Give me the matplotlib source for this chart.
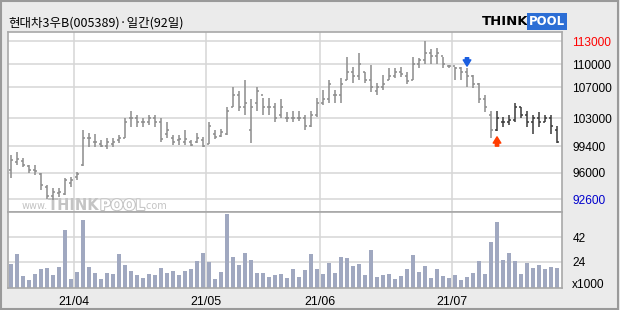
import matplotlib
matplotlib.use("Agg")
import matplotlib.pyplot as plt
import matplotlib.patheffects as pe
from matplotlib.patches import Rectangle
import numpy as np

plt.rcParams["font.family"] = ["Noto Sans CJK KR", "DejaVu Sans"]

title = "현대차3우B(005389)·일간(92일)"

# daily OHLC, 2021-03-17 .. 2021-07-26
open_ = [96400, 97400, 97500, 96800, 96300, 95800, 94200, 93000, 93400, 93300,
         94700, 95500, 97000, 100500, 100000, 99700, 99500, 99700, 100200, 100500,
         103000, 103000, 102500, 102500, 103000, 102500, 101000, 100500, 100200, 100000,
         100000, 100000, 100200, 99700, 101000, 100800, 101000, 104500, 106000, 104500,
         101500, 105000, 106000, 104500, 104500, 103500, 103000, 103000, 103000, 103000,
         102000, 103500, 105000, 105500, 106000, 106000, 108000, 109000, 108500, 109000,
         108000, 106500, 107000, 108000, 108500, 109000, 108500, 108000, 110000, 110500,
         111500, 111000, 111000, 109800, 109800, 109500, 109000, 108500, 107500, 105500,
         103500, 101500, 102500, 102500, 102800, 104500, 103500, 102500, 103000, 102500,
         103000, 101500]
high = [98300, 98700, 97900, 97000, 97000, 95900, 94400, 94000, 94000, 95300,
        95400, 96100, 101500, 101100, 101000, 100200, 100500, 100500, 100900, 103000,
        104000, 103500, 103000, 103500, 103500, 103000, 102500, 100900, 100900, 101500,
        100200, 101100, 100600, 102500, 101500, 101600, 104500, 107000, 106500, 108000,
        105500, 107000, 105600, 105600, 105000, 105500, 103800, 104000, 104000, 103500,
        104000, 105600, 106700, 108000, 106700, 108200, 110900, 109600, 111500, 109000,
        109900, 107600, 108600, 109500, 109500, 109600, 109000, 110900, 110800, 113000,
        112000, 112100, 110900, 109900, 109700, 109700, 109500, 108600, 107600, 106000,
        104000, 103900, 103200, 103500, 105000, 104500, 104000, 103500, 103800, 103500,
        103500, 102000]
low = [95300, 97000, 96700, 96000, 95700, 93800, 92600, 92500, 92900, 93100,
       94100, 95100, 96900, 99300, 99300, 99300, 99100, 99300, 99800, 100500,
       101900, 101900, 101900, 102200, 101900, 99900, 100500, 99600, 99600, 99600,
       99400, 99800, 99300, 99700, 100300, 100600, 100900, 104500, 103900, 103500,
       99800, 104000, 103500, 103500, 102500, 103000, 102500, 102500, 102700, 101500,
       101900, 103200, 104700, 105000, 105000, 105000, 108000, 107600, 108000, 107600,
       106400, 106000, 106700, 108000, 108200, 108300, 107500, 108000, 109500, 110000,
       110000, 110000, 109500, 109500, 108000, 108000, 107000, 106900, 105000, 103800,
       100500, 101400, 101900, 102200, 102500, 103000, 101900, 101000, 101900, 102500,
       101000, 99800]
close = [97600, 97800, 97000, 96300, 96200, 94400, 93000, 93500, 93500, 95000,
         95000, 95800, 100500, 100500, 99900, 99500, 99900, 100000, 100500, 102500,
         103000, 102500, 102500, 103000, 102500, 100300, 101500, 100000, 100300, 100300,
         99600, 100500, 99500, 102000, 100600, 101200, 104000, 106000, 104500, 105000,
         104500, 106500, 104500, 104500, 103000, 104500, 103000, 103000, 103000, 102000,
         103500, 105000, 105500, 107500, 106000, 107500, 109000, 108500, 110000, 108000,
         107000, 107000, 107500, 108500, 109000, 108800, 107800, 110000, 110500, 111500,
         111000, 111500, 110000, 109800, 109500, 109000, 108500, 107500, 105500, 104500,
         101500, 103000, 102500, 102800, 104500, 103500, 102500, 103000, 102500, 103000,
         102000, 100000]
# volume, x1000 shares
volume = [22.6, 29.8, 13.9, 11.0, 15.4, 19.0, 19.7, 14.6, 20.4, 47.0,
          11.8, 16.8, 54.2, 20.4, 16.1, 11.8, 16.1, 15.4, 29.8, 21.8,
          17.5, 14.6, 12.5, 15.4, 14.6, 19.7, 16.1, 17.5, 14.6, 17.5,
          19.0, 24.7, 30.5, 24.0, 11.8, 16.8, 58.5, 27.6, 21.8, 30.5,
          25.4, 16.1, 16.1, 13.2, 14.6, 15.4, 12.5, 19.0, 13.2, 18.2,
          29.8, 19.0, 15.4, 23.3, 16.1, 27.6, 26.9, 21.1, 22.6, 14.6,
          32.6, 13.2, 14.6, 15.4, 11.8, 13.9, 19.0, 29.0, 16.8, 21.1,
          12.5, 19.0, 13.9, 12.5, 14.6, 11.0, 13.2, 16.1, 24.7, 15.4,
          38.4, 52.8, 25.4, 30.5, 24.7, 15.4, 23.3, 19.7, 21.8, 19.0,
          20.4, 19.7]

month_labels = ["21/04", "21/05", "21/06", "21/07"]
month_start = [11, 33, 52, 74]  # bar index of first trading day
price_ticks = [113000, 110000, 107000, 103000, 99400, 96000, 92600]
price_tick_colors = ["#ff0000", "black", "black", "black", "black", "black", "#0000cc"]
vol_ticks = [42, 24]
sell_signal = 76
buy_signal = 81

W, H = 620, 310
bg = "#ebebeb"
grid_c = "#d6d6d6"
frame_c = "#a8a8a8"
lab_font = ["Liberation Sans", "DejaVu Sans"]
lab_size = 8.6

fig = plt.figure(figsize=(W / 100, H / 100), dpi=100, facecolor=bg)


def px_axes(x0, y0, x1, y1):
    return fig.add_axes([x0 / W, 1 - y1 / H, (x1 - x0) / W, (y1 - y0) / H])


ax = px_axes(8, 32, 562, 212)
axv = px_axes(8, 212, 562, 288)

n = len(close)
x = np.arange(n)
xlim = (-0.5, 91.83)
month_lines = [m - 0.5 for m in month_start]

for a in (ax, axv):
    a.set_facecolor("white")
    a.set_xlim(*xlim)
    for s in a.spines.values():
        s.set_color(frame_c)
        s.set_linewidth(1.2)
    for m in month_lines:
        a.axvline(m, color=grid_c, lw=1.1, zorder=0)
    a.tick_params(length=0)
    a.yaxis.tick_right()

# price panel
ax.set_ylim(90924, 114162)
for p in price_ticks:
    ax.axhline(p, color=grid_c, lw=1.1, zorder=0)
ax.set_yticks(price_ticks)
ax.set_yticklabels([f"{p}" for p in price_ticks], family=lab_font, fontsize=lab_size)
for lab, c in zip(ax.get_yticklabels(), price_tick_colors):
    lab.set_color(c)
ax.tick_params(axis="y", pad=7.5)
ax.set_xticks([])

colors = ["#8c8c8c" if i < buy_signal else "#3a3a3a" for i in range(n)]
ax.vlines(x, low, high, colors=colors, lw=1.1, zorder=3)
ax.hlines(open_, x - 0.4, x, colors=colors, lw=1.1, zorder=3)
ax.hlines(close, x, x + 0.4, colors=colors, lw=1.1, zorder=3)

arrow = "simple,head_length=0.45,head_width=0.55,tail_width=0.24"
ax.annotate("", xy=(sell_signal, high[sell_signal]), xytext=(0, 7.5), textcoords="offset points",
            arrowprops=dict(arrowstyle=arrow, color="#1a5ee0", shrinkA=0, shrinkB=1.4,
                            mutation_scale=10), zorder=4)
ax.annotate("", xy=(buy_signal, low[buy_signal]), xytext=(0, -11), textcoords="offset points",
            arrowprops=dict(arrowstyle=arrow, color="#ff3c00", shrinkA=0, shrinkB=4.3,
                            mutation_scale=10), zorder=4)

# watermark
wm = "#c4c4c4"
ax.text(14 / 554, 3 / 180, "www.", transform=ax.transAxes, fontsize=7, color=wm,
        family="DejaVu Sans", zorder=1)
ax.text(40 / 554, 2 / 180, "THINK", transform=ax.transAxes, fontsize=10.5, color=wm,
        fontweight="bold", family="DejaVu Sans", zorder=1)
ax.text(92 / 554, 2 / 180, "POOL", transform=ax.transAxes, fontsize=10.5, color="white",
        fontweight="bold", family="DejaVu Sans", zorder=1,
        path_effects=[pe.withStroke(linewidth=1.5, foreground=wm)])
ax.text(135 / 554, 3 / 180, ".com", transform=ax.transAxes, fontsize=7, color=wm,
        family="DejaVu Sans", zorder=1)

# volume panel
axv.set_ylim(5.28, 60)
for v in vol_ticks:
    axv.axhline(v, color=grid_c, lw=1.1, zorder=0)
axv.bar(x, volume, width=0.75, bottom=0, color="#a0a8c0", zorder=2)
axv.set_yticks(vol_ticks)
axv.set_yticklabels([str(v) for v in vol_ticks], family=lab_font, fontsize=lab_size)
axv.tick_params(axis="y", pad=7.5)
axv.annotate("x1000", xy=(1.0, 0.04), xycoords="axes fraction", xytext=(10, 0),
             textcoords="offset pixels", ha="left", va="center", fontsize=lab_size,
             family=lab_font)
axv.set_xticks(month_lines)
axv.set_xticklabels(month_labels, fontsize=lab_size + 0.3, family=lab_font)
axv.tick_params(axis="x", pad=6)

# title and logo
fig.text(8 / W, 1 - 23 / H, title, fontsize=9, va="center", ha="left")
fig.text(482 / W, 1 - 21.5 / H, "THINK", fontsize=9.5, fontweight="bold", va="center",
         ha="left", family="DejaVu Sans")
fig.text(529 / W, 1 - 21.5 / H, "POOL", fontsize=8.5, fontweight="bold", va="center",
         ha="left", color="white", family="DejaVu Sans",
         bbox=dict(boxstyle="square,pad=0.15", fc="#2c6ed5", ec="none"))

fig.patches.append(Rectangle((0.001, 0.002), 0.996, 0.995, transform=fig.transFigure,
                             fill=False, edgecolor="#9a9a9a", lw=1.5))

fig.savefig("out.png", dpi=100, facecolor=bg)
